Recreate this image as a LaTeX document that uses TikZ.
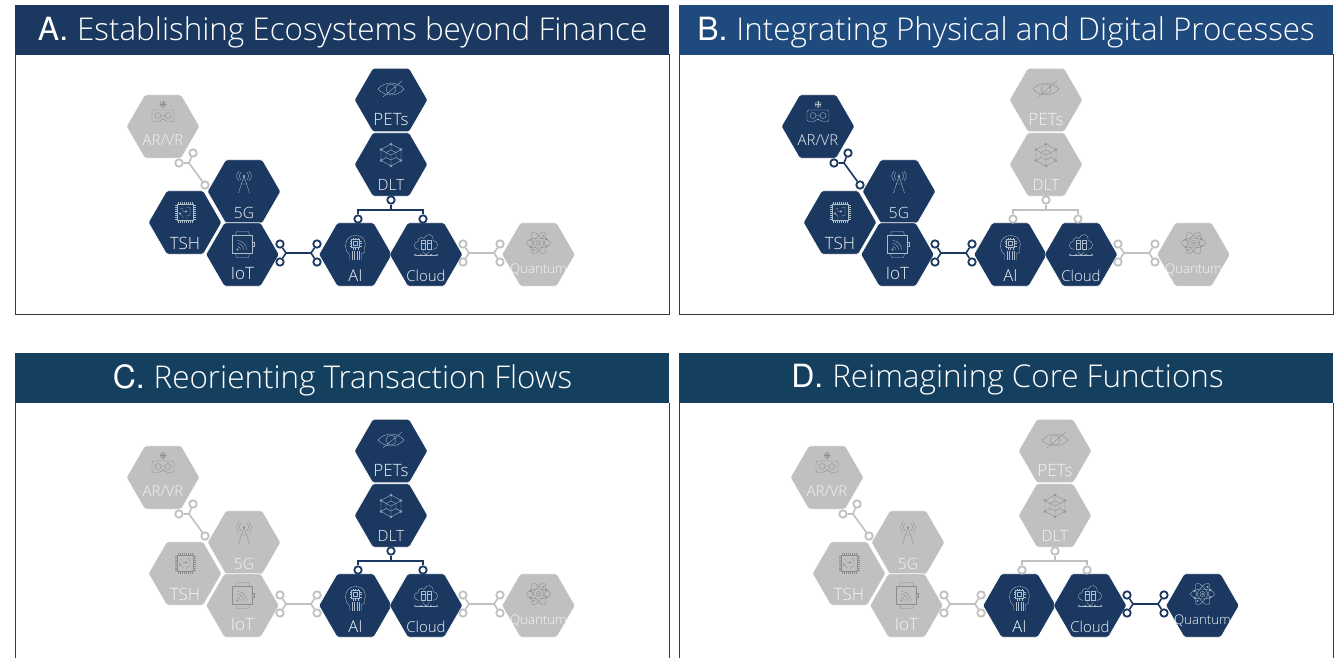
\documentclass[tikz,border=0pt]{standalone}
\usepackage{fontspec}
\setmainfont{TeX Gyre Heros}
\newfontfamily\lightfont{Open Sans Light}
\usetikzlibrary{shapes.geometric}
\definecolor{onfill}{HTML}{1A3860}
\definecolor{offfill}{HTML}{C0C0C0}
\definecolor{onicon}{HTML}{AEBBCB}
\definecolor{officon}{HTML}{8C8C8C}
\definecolor{ontext}{HTML}{F2F5F9}
\definecolor{offtext}{HTML}{F4F4F4}
\definecolor{headA}{HTML}{1A3860}
\definecolor{headB}{HTML}{1F4A7E}
\definecolor{headC}{HTML}{143F5E}
\definecolor{frameline}{HTML}{3A3A3A}
\tikzset{
  hexcellshape/.style={regular polygon,regular polygon sides=6,minimum size=73.4pt,inner sep=0pt,
     rounded corners=1.6pt,draw=white,line width=.7pt,fill=#1},
  hexlabel/.style={inner sep=0pt,text=#1},
  iconline/.style={draw=#1,line width=.35pt,fill=none},
  linkdot/.style={circle,draw=#1,fill=white,line width=1.8pt,minimum size=7.4pt,inner sep=0pt},
  linkline/.style={draw=#1,line width=1.6pt},
  headbox/.style={fill=#1,minimum width=654pt,minimum height=50pt,inner sep=0pt,text=white},
  headtext/.style={inner sep=0pt,text=white,font=\fontsize{32}{36}\selectfont},
  frameedge/.style={draw=frameline,line width=1pt}
}
\newcommand{\hd}[2]{{#1}\ {\lightfont\fontsize{31.4}{36}\selectfont #2}}
\newcommand{\icoEye}{%
  \path[draw] (-13,0) .. controls (-6,-8) and (6,-8) .. (13,0) .. controls (6,8) and (-6,8) .. cycle;
  \path[draw] (0,0) circle (5);
  \path[draw] (-8,8) -- (11,-8);}
\newcommand{\icoTower}{%
  \path[draw] (0,-7) -- (-5.5,10) (0,-7) -- (5.5,10) (-2.5,1) -- (2.5,1) (-1.3,-3) -- (1.3,-3);
  \path[draw] (0,-7) circle (1.2);
  \path[draw] (-3,-11) .. controls (-5,-8) and (-5,-6) .. (-3,-3);
  \path[draw] (3,-11) .. controls (5,-8) and (5,-6) .. (3,-3);
  \path[draw] (-5,-12) .. controls (-8,-8) and (-8,-6) .. (-5,-2);
  \path[draw] (5,-12) .. controls (8,-8) and (8,-6) .. (5,-2);}
\newcommand{\icoChip}{%
  \path[draw] (-8,-8) rectangle (8,8);
  \foreach \p in {-7,-5,-3,-1,1,3,5,7}{
    \path[draw] (\p,-8) -- (\p,-10.5) (\p,8) -- (\p,10.5) (-8,\p) -- (-10.5,\p) (8,\p) -- (10.5,\p);}
  \path[draw] (-5,-4) -- (-2,-4) -- (-2,-1) -- (1,-1) (5,-5) -- (2,-5) (5,-5) -- (5,3) -- (2,3) -- (2,6)
     (-5,1) -- (-2,4) -- (-2,6) (-5,1) circle (.9) (1,-1) circle (.9);}
\newcommand{\icoWatch}{%
  \path[draw] (-10,-9) rectangle (10,9);
  \path[draw] (-7,-9) -- (-6,-13) -- (6,-13) -- (7,-9) (-7,9) -- (-6,13) -- (6,13) -- (7,9);
  \path[draw] (10,-2) -- (11.5,-2) -- (11.5,2) -- (10,2);
  \foreach \r in {3,6,9}{
    \path[draw] (-5,{5-\r}) .. controls ({-5+.55*\r},{5-\r}) and ({-5+\r},{5-.55*\r}) .. ({-5+\r},5);}
  \path[draw] (-5,5) circle (.8);}
\newcommand{\icoHead}{%
  \path[draw] (-6,12) -- (-6,7) .. controls (-12,3) and (-12,-12) .. (0,-12) .. controls (10,-12) and (11,-3) .. (9,1) -- (9,5) -- (6,6) -- (6,12);
  \path[draw] (-4,-8) rectangle (4,0) (-2,-6) rectangle (2,-2);
  \foreach \p in {-2.5,0,2.5}{\path[draw] (\p,-8) -- (\p,-10) (\p,0) -- (\p,2) (-4,{\p-4}) -- (-6,{\p-4}) (4,{\p-4}) -- (6,{\p-4});}
  \foreach \p in {-3.6,-1.2,1.2,3.6}{\path[draw] (\p,3) -- (\p,12);}}
\newcommand{\icoCloud}{%
  \path[draw] (-7,4) .. controls (-13,4) and (-13,-4) .. (-8,-4) .. controls (-8,-8) and (-4,-9) .. (-2,-7) .. controls (0,-13) and (8,-12) .. (7,-5) .. controls (13,-5) and (13,4) .. (7,4);
  \path[draw] (-5,-5) rectangle (-1,4) (1,-5) rectangle (5,4) (-5,-2) -- (-1,-2) (1,-2) -- (5,-2);
  \path[draw] (-3,4) -- (-3,7) -- (0,9) (3,4) -- (3,7) -- (0,9);
  \path[draw] (-10,9.5) -- (10,9.5);
  \foreach \p in {-11,-5,0,5,11}{\path[draw] (\p,9.5) circle (1);}}
\newcommand{\icoNet}{%
  \path[draw] (0,-11) -- (10,-5.5) -- (10,5.5) -- (0,11) -- (-10,5.5) -- (-10,-5.5) -- cycle;
  \path[draw] (0,-5) -- (5,-2.5) -- (5,2.5) -- (0,5) -- (-5,2.5) -- (-5,-2.5) -- cycle;
  \path[draw] (0,-11) -- (0,-5) (10,-5.5) -- (5,-2.5) (10,5.5) -- (5,2.5) (0,11) -- (0,5) (-10,5.5) -- (-5,2.5) (-10,-5.5) -- (-5,-2.5);
  \path[draw] (-5,-2.5) -- (0,0) -- (5,-2.5) (0,0) -- (0,5);
  \foreach \a/\b in {0/-11,10/-5.5,10/5.5,0/11,-10/5.5,-10/-5.5}{\path[draw] (\a,\b) circle (1.2);}}
\newcommand{\icoAtom}{%
  \path[draw] (0,0) ellipse (12 and 5);
  \path[draw,rotate=60] (0,0) ellipse (12 and 5);
  \path[draw,rotate=120] (0,0) ellipse (12 and 5);
  \path[draw] (0,0) circle (2.6) (0,0) circle (1);
  \foreach \a/\b in {-8/-3,8/3,-5/7,5/-7,8/-4,-8/4}{\path[draw] (\a,\b) circle (.9);}}
\newcommand{\icoGoggles}{%
  \path[draw] (0,-7.5) circle (1.3) (0,-7.5) circle (3);
  \path[draw] (-3,-7.5) -- (3,-7.5) (0,-10.5) -- (0,-4.5);
  \path[draw,rounded corners=1.5pt] (-11,-2) -- (11,-2) -- (11,9.5) -- (3,9.5) -- (1,7) -- (-1,7) -- (-3,9.5) -- (-11,9.5) -- cycle;
  \path[draw] (-5,3.5) circle (3) (5,3.5) circle (3) (-2,3.5) -- (2,3.5);}
% name, x, y, label, fontsize, labeldy, icon, icondy, state
\newcommand{\hexcell}[9]{%
  \node[hexcellshape=#9fill] (#1) at (#2,#3) {};
  \node[hexlabel=#9text,font=\lightfont\fontsize{#5}{#5}\selectfont] (#1-t) at (#2,#3+#6) {#4};
  \begin{scope}[shift={(#2,#3+#8)},every path/.style={iconline=#9icon}]
    #7
  \end{scope}}
\newcommand{\cells}[9]{%
  \begin{scope}[shift={(\Px,\Py)},name prefix=\Pn-]
    \hexcell{arvr}{163}{126.5}{AR/VR}{15}{14}{\icoGoggles}{-14.5}{#1}
    \hexcell{fiveg}{244}{191.5}{5G}{15.5}{21}{\icoTower}{-8.5}{#2}
    \hexcell{tsh}{185}{222.5}{TSH}{17}{21}{\icoChip}{-10}{#3}
    \hexcell{iot}{242.5}{254.5}{IoT}{17}{19}{\icoWatch}{-10}{#4}
    \hexcell{ai}{355.5}{254.5}{AI}{16.5}{21}{\icoHead}{-7}{#5}
    \hexcell{cloud}{426}{254.5}{Cloud}{15}{21}{\icoCloud}{-9}{#6}
    \hexcell{pets}{391}{100}{PETs}{17}{19.5}{\icoEye}{-11}{#7}
    \hexcell{dlt}{391}{164.5}{DLT}{15.5}{20}{\icoNet}{-9.5}{#8}
    \hexcell{quantum}{538.5}{254.5}{Quantum}{13.3}{15}{\icoAtom}{-11.5}{#9}
  \end{scope}}
\newcommand{\links}[4]{%
  \begin{scope}[shift={(\Px,\Py)},name prefix=\Pn-]
    % AR/VR -- 5G
    \coordinate (l1j) at (189,163);
    \node[linkdot=#1fill] (l1a) at (179,163) {};
    \node[linkdot=#1fill] (l1b) at (193,153) {};
    \node[linkdot=#1fill] (l1c) at (205,185) {};
    \path[linkline=#1fill] (l1a) -- (l1j) (l1b) -- (l1j) (l1j) -- (l1c);
    % IoT -- AI
    \coordinate (l2j) at (286,253); \coordinate (l2k) at (311,253);
    \node[linkdot=#2fill] (l2a) at (280,244) {};
    \node[linkdot=#2fill] (l2b) at (280,262) {};
    \node[linkdot=#2fill] (l2c) at (317,244) {};
    \node[linkdot=#2fill] (l2d) at (317,262) {};
    \path[linkline=#2fill] (l2a) -- (l2j) (l2b) -- (l2j) (l2j) -- (l2k) (l2k) -- (l2c) (l2k) -- (l2d);
    % DLT -- AI, Cloud
    \coordinate (l3j) at (391,210); \coordinate (l3l) at (358,210); \coordinate (l3r) at (423,210);
    \node[linkdot=#3fill] (l3a) at (391,200) {};
    \node[linkdot=#3fill] (l3b) at (358,219) {};
    \node[linkdot=#3fill] (l3c) at (423,219) {};
    \path[linkline=#3fill] (l3a) -- (l3j) (l3b) -- (l3l) -- (l3r) -- (l3c);
    % Cloud -- Quantum
    \coordinate (l4j) at (469,253); \coordinate (l4k) at (494,253);
    \node[linkdot=#4fill] (l4a) at (463,244) {};
    \node[linkdot=#4fill] (l4b) at (463,262) {};
    \node[linkdot=#4fill] (l4c) at (500,244) {};
    \node[linkdot=#4fill] (l4d) at (500,262) {};
    \path[linkline=#4fill] (l4a) -- (l4j) (l4b) -- (l4j) (l4j) -- (l4k) (l4k) -- (l4c) (l4k) -- (l4d);
  \end{scope}}
\begin{document}
\begin{tikzpicture}[x=1pt,y=-1pt]
\useasboundingbox (0,0) rectangle (1339,658);
% frames
\path[frameedge] (15,55) rectangle (669,314);
\path[frameedge] (679,55) rectangle (1333,314);
\path[frameedge] (15,403) -- (15,658) (669,403) -- (669,658);
\path[frameedge] (679,403) -- (679,658) (1333,403) -- (1333,658);
% headers
\node[headbox=headA] (headA) at (342,30) {};
\node[headbox=headB] (headB) at (1006,30) {};
\node[headbox=headC] (headC) at (342,378) {};
\node[headbox=headC] (headD) at (1006,378) {};
\node[headtext] (headAt) at (342.5,32) {\hd{A.}{Establishing Ecosystems beyond Finance}};
\node[headtext] (headBt) at (1006,32) {\hd{B.}{Integrating Physical and Digital Processes}};
\node[headtext] (headCt) at (342.5,380) {\hd{C.}{Reorienting Transaction Flows}};
\node[headtext] (headDt) at (1007.5,380) {\hd{D.}{Reimagining Core Functions}};
% Panel A
\def\Px{0}\def\Py{0}\def\Pn{A}
\cells{off}{on}{on}{on}{on}{on}{on}{on}{off}
\links{off}{on}{on}{off}
% Panel B
\def\Px{655}\def\Py{0}\def\Pn{B}
\cells{on}{on}{on}{on}{on}{on}{off}{off}{off}
\links{on}{on}{off}{off}
% Panel C
\def\Px{0}\def\Py{351}\def\Pn{C}
\cells{off}{off}{off}{off}{on}{on}{on}{on}{off}
\links{off}{off}{on}{off}
% Panel D
\def\Px{664}\def\Py{351}\def\Pn{D}
\cells{off}{off}{off}{off}{on}{on}{off}{off}{on}
\links{off}{off}{off}{on}
\end{tikzpicture}
\end{document}
